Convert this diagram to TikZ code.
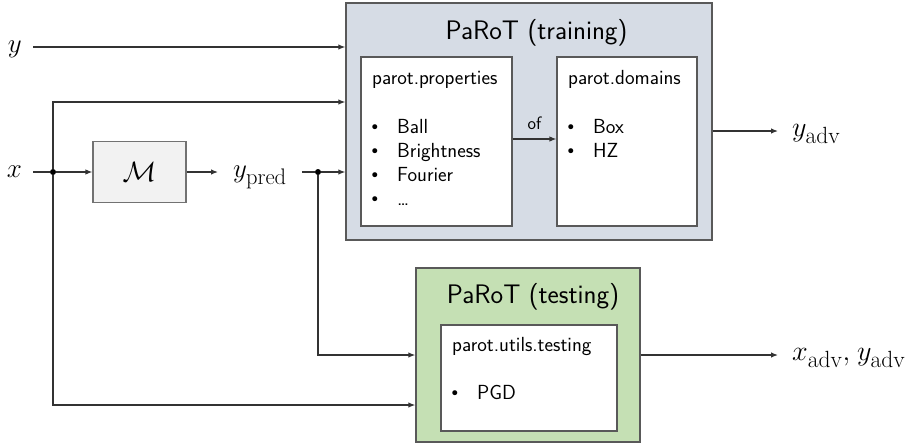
\documentclass[tikz,border=0pt]{standalone}
\usepackage{graphicx}
\usepackage{fontspec}
\newfontfamily\bulletfont{DejaVu Sans}
\usetikzlibrary{arrows.meta}
\definecolor{trainfill}{HTML}{D6DCE5}
\definecolor{testfill}{HTML}{C5E0B4}
\definecolor{mfill}{HTML}{F2F2F2}
\definecolor{edgegray}{HTML}{595959}
\definecolor{wire}{HTML}{333333}
\newcommand{\mlabtxt}[1]{\scalebox{1.085}{$#1$}}
\newcommand{\mlabadv}[1]{\scalebox{1.13}{$#1$}}
\tikzset{
  box/.style={draw=edgegray, line width=1.4pt, inner sep=0pt},
  innerbox/.style={draw=edgegray, line width=1.2pt, fill=white, inner sep=0pt},
  arr/.style={draw=wire, line width=1.2pt, -{Latex[length=7pt,width=5.5pt]}},
  wireline/.style={draw=wire, line width=1.2pt},
  mlab/.style={font=\fontsize{24.88}{30}\selectfont, text height=11.6pt, text depth=0pt, inner ysep=0pt},
  ttl/.style={font=\sffamily\fontsize{26.8}{30}\selectfont, anchor=base, inner sep=0pt},
  txt/.style={font=\sffamily\fontsize{20.4}{24}\selectfont, anchor=base west, inner sep=0pt},
  bul/.style={font=\bulletfont\fontsize{17}{20}\selectfont, anchor=base, inner sep=0pt},
  junction/.style={circle, fill=black, inner sep=0pt, minimum size=6pt},
}
\begin{document}
\begin{tikzpicture}[x=1pt,y=-1pt]
\useasboundingbox (0,0) rectangle (917,445);

% training block
\node[box, fill=trainfill, minimum width=366pt, minimum height=237pt] (train) at (529,121.5) {};
\node[ttl] (ttrain) at (536.5,39) {PaRoT (training)};
\node[innerbox, minimum width=151pt, minimum height=169pt] (props) at (436.5,141.5) {};
\node[innerbox, minimum width=140pt, minimum height=169pt] (doms) at (627,141.5) {};
\node[txt] (ptitle) at (372,84) {parot.properties};
\foreach \t [count=\i] in {Ball,Brightness,Fourier,\dots}{
  \node[bul] (pb\i) at (375,109+24*\i) {•};
  \node[txt] (pi\i) at (397,109+24*\i) {\t};
}
\node[txt] (dtitle) at (568,84) {parot.domains};
\foreach \t [count=\i] in {Box,HZ}{
  \node[bul] (db\i) at (571,109+24*\i) {•};
  \node[txt] (di\i) at (593,109+24*\i) {\t};
}
\coordinate (ofrow) at (0,139);
\draw[arr] (props.east |- ofrow) -- (doms.west |- ofrow)
  node[pos=0.5, anchor=base, yshift=10pt, inner sep=0pt, font=\sffamily\fontsize{18}{20}\selectfont] (oflab) {of};

% testing block
\node[box, fill=testfill, minimum width=224pt, minimum height=174pt] (test) at (528,355) {};
\node[ttl] (ttest) at (533,303) {PaRoT (testing)};
\node[innerbox, minimum width=176pt, minimum height=106pt] (testin) at (529,378) {};
\node[txt] (ttitle) at (452,351) {parot.utils.testing};
\node[bul] (tb1) at (455,399) {•};
\node[txt] (ti1) at (477,399) {PGD};

% model
\node[box, line width=1.2pt, draw=edgegray!85, fill=mfill, minimum width=93pt, minimum height=61pt,
      font=\fontsize{24.88}{30}\selectfont] (M) at (139.5,172) {\scalebox{1.125}{$\mathcal{M}$}};

% labels
\node[mlab, anchor=east, inner xsep=11pt] (ylab) at (33,47) {\mlabtxt{y}};
\node[mlab, anchor=east, inner xsep=11pt] (xlab) at (33,172) {\mlabtxt{x}};
\node[mlab, anchor=west, inner xsep=15pt] (ypred) at (218,172) {\mlabtxt{y_{\mathrm{pred}}}};
\node[mlab, anchor=west, inner xsep=14pt] (yadv) at (778,131) {\mlabadv{y_{\mathrm{adv}}}};
\node[mlab, anchor=west, inner xsep=14pt] (xyadv) at (778,355) {\mlabadv{x_{\mathrm{adv}}}\mlabadv{,}\hspace{7pt}\mlabadv{y_{\mathrm{adv}}}};

% junctions
\node[junction] (j1) at (53,172) {};
\node[junction] (j2) at (318,172) {};
\coordinate (r2) at (0,102);
\coordinate (r5) at (0,405);

% connectors
\draw[arr] (ylab.east) -- (ylab.east -| train.west);
\draw[wireline] (xlab.east) -- (j1);
\draw[arr] (j1) -- (M.west);
\draw[arr] (j1) |- (train.west |- r2);
\draw[arr] (j1) |- (test.west |- r5);
\draw[arr] (M.east) -- (ypred.west);
\draw[wireline] (ypred.east) -- (j2);
\draw[arr] (j2) -- (j2 -| train.west);
\draw[arr] (j2) |- (test.west);
\draw[arr] (train.east |- yadv) -- (yadv.west);
\draw[arr] (test.east) -- (xyadv.west);
\end{tikzpicture}
\end{document}
